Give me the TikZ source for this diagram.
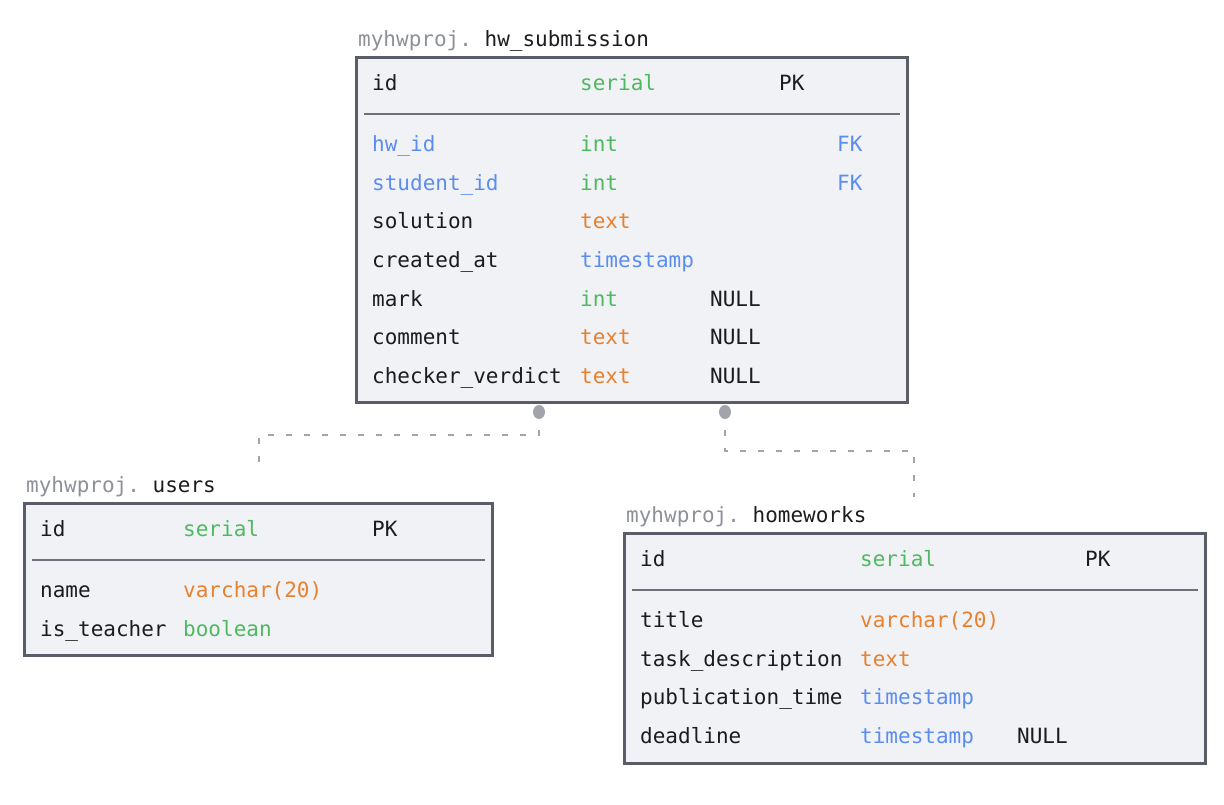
\documentclass[tikz,border=0pt]{standalone}
\usepackage{fontspec}
\setmonofont{DejaVu Sans Mono}
\definecolor{tgreen}{HTML}{4DB960}
\definecolor{torange}{HTML}{E8812F}
\definecolor{tblue}{HTML}{5B8DEF}
\definecolor{tgray}{HTML}{8E9099}
\definecolor{tink}{HTML}{1C1C1E}
\definecolor{tborder}{HTML}{5A5C67}
\definecolor{tfill}{HTML}{F1F2F6}
\definecolor{tline}{HTML}{6E7079}
\definecolor{tconn}{HTML}{A3A4AB}
\tikzset{
  tbl/.style={draw=tborder, line width=3pt, fill=tfill, anchor=north west, inner sep=0pt, outer sep=0pt},
  cell/.style={anchor=base west, inner sep=0pt, text=tink},
  gtype/.style={cell, text=tgreen},
  otype/.style={cell, text=torange},
  btype/.style={cell, text=tblue},
  sepline/.style={draw=tline, line width=2pt},
  conn/.style={draw=tconn, line width=2pt, dash pattern=on 6pt off 12pt},
  cdot/.style={fill=tconn}
}
\begin{document}
\begin{tikzpicture}[x=1pt,y=-1pt, every node/.style={font=\ttfamily\fontsize{21}{25}\selectfont}]
\useasboundingbox (0,0) rectangle (1224,804);

% ---------- hw_submission ----------
\node[tbl, minimum width=551pt, minimum height=345pt] (hw) at (356.5,57.5) {};
\node[cell] (hwT) at (358,46) {\textcolor{tgray}{myhwproj.} hw\_submission};
\node[cell] (hw1a) at (372,90.5) {id};
\node[gtype] (hw1b) at (580,90.5) {serial};
\node[cell] (hw1c) at (779,90.5) {PK};
\draw[sepline] (364,114) -- (900,114);
\node[btype] (hw2a) at (372,151.5) {hw\_id};
\node[gtype] (hw2b) at (580,151.5) {int};
\node[btype] (hw2c) at (837,151.5) {FK};
\node[btype] (hw3a) at (372,190.5) {student\_id};
\node[gtype] (hw3b) at (580,190.5) {int};
\node[btype] (hw3c) at (837,190.5) {FK};
\node[cell] (hw4a) at (372,228.5) {solution};
\node[otype] (hw4b) at (580,228.5) {text};
\node[cell] (hw5a) at (372,267.5) {created\_at};
\node[btype] (hw5b) at (580,267.5) {timestamp};
\node[cell] (hw6a) at (372,306.5) {mark};
\node[gtype] (hw6b) at (580,306.5) {int};
\node[cell] (hw6c) at (710,306.5) {NULL};
\node[cell] (hw7a) at (372,344.5) {comment};
\node[otype] (hw7b) at (580,344.5) {text};
\node[cell] (hw7c) at (710,344.5) {NULL};
\node[cell] (hw8a) at (372,383.5) {checker\_verdict};
\node[otype] (hw8b) at (580,383.5) {text};
\node[cell] (hw8c) at (710,383.5) {NULL};

% ---------- users ----------
\node[tbl, minimum width=468pt, minimum height=152pt] (us) at (24.5,503.5) {};
\node[cell] (usT) at (26,492) {\textcolor{tgray}{myhwproj.} users};
\node[cell] (us1a) at (40,536.5) {id};
\node[gtype] (us1b) at (183,536.5) {serial};
\node[cell] (us1c) at (372,536.5) {PK};
\draw[sepline] (32,560) -- (485,560);
\node[cell] (us2a) at (40,597.5) {name};
\node[otype] (us2b) at (183,597.5) {varchar(20)};
\node[cell] (us3a) at (40,636.5) {is\_teacher};
\node[gtype] (us3b) at (183,636.5) {boolean};

% ---------- homeworks ----------
\node[tbl, minimum width=581pt, minimum height=230pt] (hk) at (624.5,533.5) {};
\node[cell] (hkT) at (626,522) {\textcolor{tgray}{myhwproj.} homeworks};
\node[cell] (hk1a) at (640,566.5) {id};
\node[gtype] (hk1b) at (860,566.5) {serial};
\node[cell] (hk1c) at (1085,566.5) {PK};
\draw[sepline] (632,590) -- (1198,590);
\node[cell] (hk2a) at (640,627.5) {title};
\node[otype] (hk2b) at (860,627.5) {varchar(20)};
\node[cell] (hk3a) at (640,666.5) {task\_description};
\node[otype] (hk3b) at (860,666.5) {text};
\node[cell] (hk4a) at (640,704.5) {publication\_time};
\node[btype] (hk4b) at (860,704.5) {timestamp};
\node[cell] (hk5a) at (640,743.5) {deadline};
\node[btype] (hk5b) at (860,743.5) {timestamp};
\node[cell] (hk5c) at (1017,743.5) {NULL};

% ---------- connectors ----------
\coordinate (d1) at (539,412);
\coordinate (m1) at (0,435);
\coordinate (e1) at (259,466);
\coordinate (d2) at (725,412);
\coordinate (m2) at (0,451);
\coordinate (e2) at (914,497);
\draw[conn] (d1) -- (d1 |- m1) -- (e1 |- m1) -- (e1);
\draw[conn] (d2) -- (d2 |- m2) -- (e2 |- m2) -- (e2);
\fill[cdot] (d1) ellipse (6pt and 7pt);
\fill[cdot] (d2) ellipse (6pt and 7pt);
\end{tikzpicture}
\end{document}
